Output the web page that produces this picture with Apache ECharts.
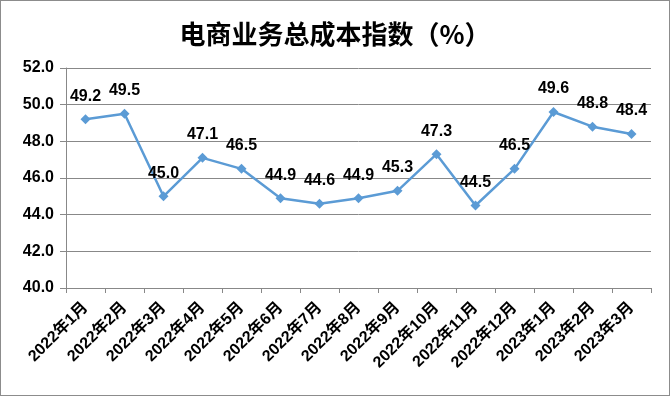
<!DOCTYPE html>
<html><head><meta charset="utf-8">
<script src="https://cdn.jsdelivr.net/npm/echarts@6/dist/echarts.min.js"></script>
<style>html,body{margin:0;padding:0;background:#fff}#c{width:670px;height:396px;box-sizing:border-box;border:1px solid #8c8c8c}</style>
</head><body><div id="c"></div>
<script>
const categories = ['2022年1月','2022年2月','2022年3月','2022年4月','2022年5月','2022年6月','2022年7月','2022年8月','2022年9月','2022年10月','2022年11月','2022年12月','2023年1月','2023年2月','2023年3月'];
const values = [49.2,49.5,45.0,47.1,46.5,44.9,44.6,44.9,45.3,47.3,44.5,46.5,49.6,48.8,48.4];
const titleText = '电商业务总成本指数（%）';
const chart = echarts.init(document.getElementById('c'));
chart.setOption({
  animation:false,
  title:{text:titleText,left:'center',top:15,textStyle:{fontFamily:'"Noto Sans CJK SC"',fontSize:26,fontWeight:'bold',color:'#000'}},
  grid:{left:65,right:18,top:67,bottom:107,containLabel:false},
  xAxis:{type:'category',data:categories,boundaryGap:true,
    axisLine:{lineStyle:{color:'#888',width:1}},
    axisTick:{show:true,length:5,lineStyle:{color:'#888'}},
    axisLabel:{rotate:45,interval:0,fontFamily:'Arial, "Noto Sans CJK SC"',fontSize:16,fontWeight:'bold',color:'#000',margin:17}},
  yAxis:{type:'value',min:40,max:52,interval:2,
    axisLine:{show:true,lineStyle:{color:'#888'}},
    axisTick:{show:true,length:6,inside:false,lineStyle:{color:'#888'}},
    splitLine:{lineStyle:{color:'#888',width:1}},
    axisLabel:{formatter:v=>v.toFixed(1),fontFamily:'Arial',fontSize:16,fontWeight:'bold',color:'#000',margin:12}},
  series:[{type:'line',data:values,symbol:'diamond',symbolSize:10,
    lineStyle:{color:'#5b9bd5',width:2.5},itemStyle:{color:'#5b9bd5'},
    label:{show:true,position:'top',distance:10,formatter:p=>p.value.toFixed(1),fontFamily:'Arial',fontSize:16,fontWeight:'bold',color:'#000'}}]
});
</script></body></html>
